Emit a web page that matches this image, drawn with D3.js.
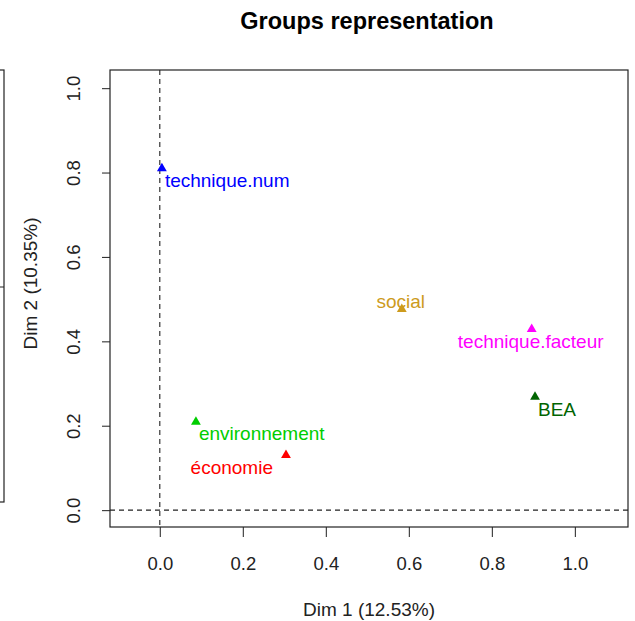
<!DOCTYPE html>
<html>
<head>
<meta charset="utf-8">
<script src="https://cdn.jsdelivr.net/npm/d3@7"></script>
<style>
  body { margin: 0; background: #fff; }
  svg { display: block; }
  text { font-family: "Liberation Sans", Arial, sans-serif; }
</style>
</head>
<body>
<svg id="chart" width="635" height="621"></svg>
<script>
// ---- data ----
const groups = ["technique.num", "social", "technique.facteur", "BEA", "environnement", "économie"];
const dim1 = [0.005, 0.583, 0.896, 0.904, 0.087, 0.304];
const dim2 = [0.810, 0.476, 0.429, 0.268, 0.209, 0.130];
const colors = ["#0000FF", "#CD9B1D", "#FF00FF", "#006400", "#00CD00", "#FF0000"];
const labelSide = ["right-below", "above", "below", "right-below", "right-below", "left-below"];
const xTicks = [0.0, 0.2, 0.4, 0.6, 0.8, 1.0];
const yTicks = [0.0, 0.2, 0.4, 0.6, 0.8, 1.0];
const xDomain = [-0.12, 1.128];
const yDomain = [-0.04, 1.043];
const title = "Groups representation";
const xLabel = "Dim 1 (12.53%)";
const yLabel = "Dim 2 (10.35%)";

// ---- layout ----
const pLeft = 110, pRight = 628, pTop = 70, pBottom = 527;
const svg = d3.select("#chart");
const x = d3.scaleLinear().domain(xDomain).range([pLeft, pRight]);
const y = d3.scaleLinear().domain(yDomain).range([pBottom, pTop]);

// partial neighbouring panel at left edge
svg.append("rect").attr("x", -10).attr("y", 70).attr("width", 14).attr("height", 432)
  .attr("fill", "none").attr("stroke", "#222").attr("stroke-width", 1.2);
svg.append("line").attr("x1", 0).attr("x2", 4).attr("y1", 287).attr("y2", 287)
  .attr("stroke", "#222").attr("stroke-width", 1);

// title
svg.append("text").attr("x", (pLeft + pRight) / 2 - 2).attr("y", 29)
  .attr("text-anchor", "middle").attr("font-weight", "bold").attr("font-size", 23.5)
  .attr("fill", "#000").text(title);

// reference dashed lines
svg.append("line").attr("x1", x(0)).attr("x2", x(0)).attr("y1", pTop).attr("y2", pBottom)
  .attr("stroke", "#222").attr("stroke-dasharray", "5,4").attr("stroke-width", 1.1);
svg.append("line").attr("x1", pLeft).attr("x2", pRight).attr("y1", y(0)).attr("y2", y(0))
  .attr("stroke", "#222").attr("stroke-dasharray", "5,4").attr("stroke-width", 1.1);

// axes
const xAxis = d3.axisBottom(x).tickValues(xTicks).tickFormat(d3.format(".1f")).tickSize(10).tickPadding(20);
const gx = svg.append("g").attr("transform", `translate(0,${pBottom})`).call(xAxis);
gx.select(".domain").remove();
gx.selectAll(".tick line").attr("stroke", "#333").attr("stroke-width", 1.1);
gx.selectAll(".tick text").attr("font-size", 18.5).attr("fill", "#222")
  .attr("font-family", "Liberation Sans, Arial, sans-serif");

const yAxis = d3.axisLeft(y).tickValues(yTicks).tickFormat(d3.format(".1f")).tickSize(8).tickPadding(0);
const gy = svg.append("g").attr("transform", `translate(${pLeft},0)`).call(yAxis);
gy.select(".domain").remove();
gy.selectAll(".tick line").attr("stroke", "#333").attr("stroke-width", 1.1);
gy.selectAll(".tick text").attr("font-size", 18.5).attr("fill", "#222")
  .attr("font-family", "Liberation Sans, Arial, sans-serif")
  .attr("x", 0).attr("dy", null)
  .attr("text-anchor", "middle")
  .attr("transform", "translate(-37,0) rotate(-90)")
  .attr("dominant-baseline", "central");

// box
svg.append("rect").attr("x", pLeft).attr("y", pTop).attr("width", pRight - pLeft).attr("height", pBottom - pTop)
  .attr("fill", "none").attr("stroke", "#222").attr("stroke-width", 1.2);

// axis titles
svg.append("text").attr("x", (pLeft + pRight) / 2).attr("y", 616)
  .attr("text-anchor", "middle").attr("font-size", 19).attr("fill", "#222").text(xLabel);
svg.append("text").attr("transform", `translate(37,${(pTop + pBottom) / 2 - 15}) rotate(-90)`)
  .attr("text-anchor", "middle").attr("font-size", 19).attr("fill", "#222").text(yLabel);

// points
const pts = groups.map((g, i) => ({ name: g, x: dim1[i], y: dim2[i], c: colors[i], side: labelSide[i] }));
svg.append("g").selectAll("path").data(pts).join("path")
  .attr("d", d3.symbol(d3.symbolTriangle, 42))
  .attr("transform", d => `translate(${x(d.x)},${y(d.y)})`)
  .attr("fill", d => d.c);

// labels
const place = {
  "right-below": { dx: 3, dy: 12, anchor: "start" },
  "above": { dx: -1, dy: -8, anchor: "middle" },
  "below": { dx: -1, dy: 12, anchor: "middle" },
  "left-below": { dx: -13, dy: 12, anchor: "end" }
};
svg.append("g").selectAll("text").data(pts).join("text")
  .attr("x", d => x(d.x) + place[d.side].dx)
  .attr("y", d => y(d.y) + place[d.side].dy)
  .attr("text-anchor", d => place[d.side].anchor)
  .attr("dominant-baseline", "central")
  .attr("font-size", 19)
  .attr("fill", d => d.c)
  .text(d => d.name);
</script>
</body>
</html>
